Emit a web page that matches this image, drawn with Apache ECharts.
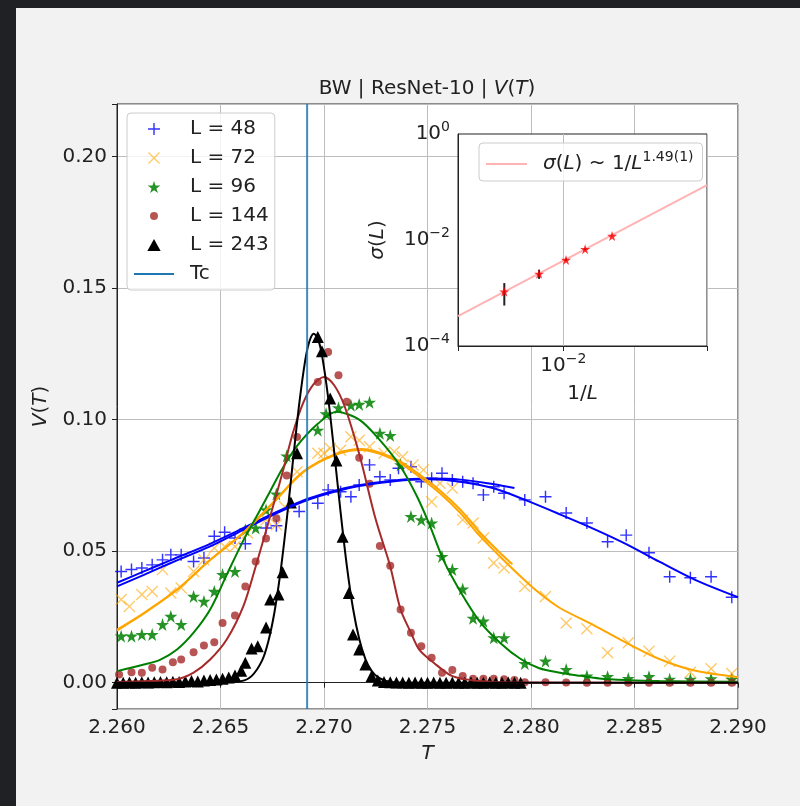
<!DOCTYPE html>
<html>
<head>
<meta charset="utf-8">
<title>BW | ResNet-10 | V(T)</title>
<script src="https://cdn.jsdelivr.net/npm/echarts@6/dist/echarts.min.js"></script>
<style>
  html, body { margin: 0; padding: 0; background: #f2f2f2; }
  #chart { width: 800px; height: 806px; }
</style>
</head>
<body>
<div id="chart"></div>
<script>
// V(T) per lattice size L, points [T, V]
const sizes = [48, 72, 96, 144, 243]
const Tc = 2.269185

const v48 = [
  [2.2602, 0.0423], [2.2607, 0.0430], [2.2612, 0.0436], [2.2617, 0.0448], [2.2622, 0.0467],
  [2.2626, 0.0486], [2.2631, 0.0486], [2.2637, 0.0461], [2.2642, 0.0474], [2.2647, 0.0557],
  [2.2652, 0.0572], [2.2657, 0.0550], [2.2662, 0.0528], [2.2672, 0.0588], [2.2677, 0.0597],
  [2.2688, 0.0651], [2.2697, 0.0682], [2.2702, 0.0733], [2.2708, 0.0726], [2.2713, 0.0707],
  [2.2717, 0.0752], [2.2722, 0.0828], [2.2727, 0.0783], [2.2732, 0.0771], [2.2736, 0.0815],
  [2.2742, 0.0821], [2.2747, 0.0764], [2.2752, 0.0777], [2.2757, 0.0796], [2.2762, 0.0771],
  [2.2767, 0.0764], [2.2772, 0.0758], [2.2777, 0.0714], [2.2782, 0.0745], [2.2787, 0.0720],
  [2.2797, 0.0695], [2.2807, 0.0707], [2.2817, 0.0645], [2.2827, 0.0607], [2.2837, 0.0536],
  [2.2846, 0.0561], [2.2857, 0.0494], [2.2867, 0.0403], [2.2877, 0.0399], [2.2887, 0.0403],
  [2.2897, 0.0325]
]
const v72 = [
  [2.2602, 0.0316], [2.2606, 0.0290], [2.2612, 0.0335], [2.2617, 0.0347], [2.2622, 0.0430],
  [2.2626, 0.0341], [2.2631, 0.0360], [2.2637, 0.0423], [2.2642, 0.0467], [2.2647, 0.0512],
  [2.2652, 0.0518], [2.2657, 0.0518], [2.2663, 0.0569], [2.2672, 0.0619], [2.2677, 0.0600],
  [2.2681, 0.0669], [2.2687, 0.0802], [2.2697, 0.0872], [2.2700, 0.0872], [2.2703, 0.0891],
  [2.2708, 0.0884], [2.2713, 0.0935], [2.2717, 0.0922], [2.2722, 0.0897], [2.2729, 0.0872],
  [2.2734, 0.0878], [2.2738, 0.0859], [2.2743, 0.0828], [2.2748, 0.0809], [2.2752, 0.0688],
  [2.2756, 0.0758], [2.2762, 0.0739], [2.2767, 0.0619], [2.2772, 0.0607], [2.2777, 0.0550],
  [2.2782, 0.0455], [2.2787, 0.0436], [2.2797, 0.0366], [2.2807, 0.0328], [2.2817, 0.0227],
  [2.2827, 0.0205], [2.2837, 0.0114], [2.2847, 0.0152], [2.2857, 0.0120], [2.2867, 0.0082],
  [2.2877, 0.0040], [2.2887, 0.0053], [2.2897, 0.0035]
]
const v96 = [
  [2.2602, 0.0177], [2.2607, 0.0177], [2.2612, 0.0183], [2.2617, 0.0183], [2.2622, 0.0221],
  [2.2626, 0.0252], [2.2631, 0.0221], [2.2637, 0.0328], [2.2642, 0.0309], [2.2647, 0.0347],
  [2.2651, 0.0411], [2.2657, 0.0423], [2.2662, 0.0581], [2.2667, 0.0588], [2.2672, 0.0657],
  [2.2677, 0.0717], [2.2682, 0.0862], [2.2697, 0.0960], [2.2701, 0.1022], [2.2707, 0.1045],
  [2.2713, 0.1055], [2.2717, 0.1058], [2.2722, 0.1066], [2.2727, 0.0948], [2.2732, 0.0940],
  [2.2737, 0.0828], [2.2742, 0.0632], [2.2747, 0.0619], [2.2752, 0.0607], [2.2757, 0.0480],
  [2.2762, 0.0430], [2.2767, 0.0356], [2.2772, 0.0245], [2.2777, 0.0234], [2.2782, 0.0171],
  [2.2787, 0.0171], [2.2797, 0.0073], [2.2807, 0.0082], [2.2817, 0.0050], [2.2827, 0.0025],
  [2.2837, 0.0023], [2.2847, 0.0016], [2.2857, 0.0023], [2.2867, 0.0013], [2.2877, 0.0013],
  [2.2887, 0.0015], [2.2897, 0.0013]
]
const v144 = [
  [2.2601, 0.0031], [2.2607, 0.0040], [2.2612, 0.0038], [2.2617, 0.0057], [2.2622, 0.0050],
  [2.2627, 0.0078], [2.2631, 0.0088], [2.2637, 0.0116], [2.2642, 0.0141], [2.2647, 0.0154],
  [2.2651, 0.0227], [2.2657, 0.0255], [2.2662, 0.0366], [2.2667, 0.0461], [2.2672, 0.0548],
  [2.2677, 0.0625], [2.2682, 0.0788], [2.2687, 0.0934], [2.2697, 0.1143], [2.2702, 0.1257],
  [2.2707, 0.1169], [2.2711, 0.1068], [2.2717, 0.0855], [2.2722, 0.0756], [2.2727, 0.0520],
  [2.2732, 0.0445], [2.2737, 0.0278], [2.2742, 0.0190], [2.2747, 0.0139], [2.2752, 0.0095],
  [2.2757, 0.0038], [2.2762, 0.0048], [2.2767, 0.0025], [2.2772, 0.0015], [2.2777, 0.0015],
  [2.2782, 0.0015], [2.2787, 0.0013], [2.2792, 0.0010], [2.2797, 0.0002], [2.2807, 0.0002],
  [2.2817, 0.0001], [2.2827, 0.0000], [2.2837, 0.0000], [2.2847, 0.0000], [2.2857, 0.0000],
  [2.2867, 0.0000], [2.2877, 0.0000], [2.2887, 0.0000], [2.2897, 0.0000]
]
const v243 = [
  [2.2600, 0.0000], [2.2603, 0.0000], [2.2606, 0.0001], [2.2609, 0.0000], [2.2612, 0.0002],
  [2.2615, 0.0001], [2.2618, 0.0002], [2.2621, 0.0003], [2.2624, 0.0002], [2.2627, 0.0004],
  [2.2630, 0.0003], [2.2633, 0.0005], [2.2636, 0.0006], [2.2639, 0.0005], [2.2642, 0.0008],
  [2.2645, 0.0010], [2.2648, 0.0012], [2.2651, 0.0015], [2.2654, 0.0020], [2.2657, 0.0027],
  [2.2660, 0.0045], [2.2662, 0.0076], [2.2665, 0.0130], [2.2668, 0.0139], [2.2672, 0.0210],
  [2.2674, 0.0316], [2.2678, 0.0335], [2.2680, 0.0420], [2.2684, 0.0685], [2.2687, 0.0872],
  [2.2697, 0.1314], [2.2699, 0.1260], [2.2703, 0.1080], [2.2706, 0.0845], [2.2709, 0.0555],
  [2.2712, 0.0341], [2.2714, 0.0183], [2.2717, 0.0126], [2.2720, 0.0069], [2.2723, 0.0025],
  [2.2726, 0.0008], [2.2729, 0.0003], [2.2732, 0.0002], [2.2735, 0.0001], [2.2738, 0.0001],
  [2.2741, 0.0000], [2.2744, 0.0001], [2.2747, 0.0000], [2.2750, 0.0000], [2.2753, 0.0001],
  [2.2756, 0.0000], [2.2759, 0.0000], [2.2762, 0.0001], [2.2765, 0.0000], [2.2768, 0.0000],
  [2.2771, 0.0001], [2.2774, 0.0000], [2.2777, 0.0000], [2.2780, 0.0001], [2.2783, 0.0000],
  [2.2786, 0.0000], [2.2789, 0.0001], [2.2792, 0.0000], [2.2795, 0.0000]
]

// fitted curves as traced on the figure (two fits for L = 48 and 72)
const fit48 = [
  [2.2600, 0.0366], [2.2613, 0.0410], [2.2626, 0.0455], [2.2645, 0.0518], [2.2658, 0.0569],
  [2.2672, 0.0625], [2.2682, 0.0662], [2.2693, 0.0697], [2.2705, 0.0726], [2.2717, 0.0748],
  [2.2734, 0.0766], [2.2750, 0.0773], [2.2766, 0.0764], [2.2782, 0.0739], [2.2798, 0.0692],
  [2.2814, 0.0640], [2.2830, 0.0586], [2.2846, 0.0527], [2.2862, 0.0460], [2.2879, 0.0392],
  [2.2900, 0.0325]
]
const fit48b = [
  [2.2600, 0.0380], [2.2613, 0.0423], [2.2626, 0.0466], [2.2645, 0.0528], [2.2658, 0.0576],
  [2.2672, 0.0630], [2.2682, 0.0666], [2.2693, 0.0701], [2.2705, 0.0730], [2.2717, 0.0751],
  [2.2734, 0.0769], [2.2750, 0.0776], [2.2766, 0.0772], [2.2782, 0.0754], [2.2792, 0.0740]
]
const fit72 = [
  [2.2600, 0.0202], [2.2613, 0.0265], [2.2629, 0.0354], [2.2645, 0.0467], [2.2661, 0.0569],
  [2.2676, 0.0688], [2.2690, 0.0800], [2.2706, 0.0868], [2.2718, 0.0885], [2.2727, 0.0870],
  [2.2737, 0.0834], [2.2746, 0.0783], [2.2756, 0.0720], [2.2766, 0.0644], [2.2775, 0.0560],
  [2.2785, 0.0480], [2.2795, 0.0404], [2.2804, 0.0341], [2.2814, 0.0284], [2.2830, 0.0220],
  [2.2846, 0.0152], [2.2862, 0.0090], [2.2879, 0.0046], [2.2900, 0.0021]
]
const fit72b = [
  [2.2600, 0.0198], [2.2613, 0.0263], [2.2629, 0.0353], [2.2645, 0.0466], [2.2661, 0.0570],
  [2.2676, 0.0690], [2.2690, 0.0803], [2.2706, 0.0871], [2.2718, 0.0888], [2.2727, 0.0874],
  [2.2737, 0.0840], [2.2746, 0.0792], [2.2756, 0.0731], [2.2766, 0.0657], [2.2775, 0.0574],
  [2.2785, 0.0494], [2.2791, 0.0450]
]
const fit96 = [
  [2.2600, 0.0044], [2.2613, 0.0069], [2.2621, 0.0088], [2.2629, 0.0126], [2.2637, 0.0190],
  [2.2645, 0.0278], [2.2653, 0.0410], [2.2661, 0.0540], [2.2668, 0.0640], [2.2674, 0.0728],
  [2.2680, 0.0815], [2.2687, 0.0900], [2.2697, 0.0984], [2.2706, 0.1030], [2.2717, 0.1000],
  [2.2727, 0.0922], [2.2737, 0.0821], [2.2745, 0.0707], [2.2751, 0.0600], [2.2758, 0.0461],
  [2.2766, 0.0345], [2.2775, 0.0235], [2.2785, 0.0152], [2.2795, 0.0090], [2.2804, 0.0055],
  [2.2814, 0.0038], [2.2824, 0.0026], [2.2833, 0.0016], [2.2846, 0.0010], [2.2862, 0.0006],
  [2.2900, 0.0004]
]
const fit144 = [
  [2.2600, 0.0003], [2.2615, 0.0006], [2.2629, 0.0013], [2.2637, 0.0038], [2.2645, 0.0088],
  [2.2653, 0.0164], [2.2661, 0.0290], [2.2667, 0.0442], [2.2675, 0.0660], [2.2680, 0.0800],
  [2.2685, 0.0950], [2.2690, 0.1065], [2.2695, 0.1135], [2.2700, 0.1162], [2.2705, 0.1130],
  [2.2710, 0.1050], [2.2717, 0.0870], [2.2725, 0.0620], [2.2732, 0.0442], [2.2737, 0.0278],
  [2.2742, 0.0190], [2.2746, 0.0126], [2.2753, 0.0076], [2.2762, 0.0025], [2.2775, 0.0006],
  [2.2790, 0.0001], [2.2900, 0.0000]
]
const fit243 = [
  [2.2600, 0.0000], [2.2650, 0.0001], [2.2660, 0.0006], [2.2665, 0.0025], [2.2670, 0.0083],
  [2.2673, 0.0154], [2.2676, 0.0265], [2.2679, 0.0422], [2.2682, 0.0620], [2.2685, 0.0843],
  [2.2688, 0.1058], [2.2691, 0.1229], [2.2693, 0.1299], [2.2695, 0.1327], [2.2697, 0.1308],
  [2.2699, 0.1246], [2.2702, 0.1084], [2.2705, 0.0872], [2.2708, 0.0649], [2.2711, 0.0446],
  [2.2714, 0.0283], [2.2717, 0.0167], [2.2720, 0.0090], [2.2723, 0.0045], [2.2726, 0.0021],
  [2.2730, 0.0007], [2.2735, 0.0001], [2.2745, 0.0000], [2.2900, 0.0000]
]

// inset: width of the peak against 1/L
const sigma = [0.0119, 0.0067, 0.0042, 0.0023, 0.00106]
const sigmaErr = [0.0002, 0.0003, 0.0002, 0.00045, 0.00048]
const sigmaFit = [[0.00205, 0.000368], [0.0869, 0.109]]

const FONT = 'DejaVu Sans'
const INK = '#222222'
const PLUS = 'path://M4.4,0H5.6V4.4H10V5.6H5.6V10H4.4V5.6H0V4.4H4.4Z'
const CROSS = 'path://M0,0.8L0.8,0L5,4.2L9.2,0L10,0.8L5.8,5L10,9.2L9.2,10L5,5.8L0.8,10L0,9.2L4.2,5Z'
const STAR = 'path://M5,0L6.18,3.62L10,3.62L6.91,5.86L8.09,9.5L5,7.25L1.91,9.5L3.09,5.86L0,3.62L3.82,3.62Z'
const TRI = 'path://M5,0L10,9L0,9Z'
// dot with an empty margin so the legend icon stays small
const DOT_ICON = 'path://M0,0L0.01,0Z M12,12L11.99,12Z M6,2A4,4 0 1,1 6,10A4,4 0 1,1 6,2Z'
const BAR_40 = 'path://M0,0H40V2H0Z'

function points(name, data, symbol, size, color, opacity) {
  return {
    name, type: 'scatter', data, symbol, symbolSize: size,
    itemStyle: { color, opacity }
  }
}

function fitLine(name, data, color) {
  return {
    name, type: 'line', data, smooth: 0.3,
    symbol: 'none', lineStyle: { color, width: 2 }, itemStyle: { color }
  }
}

function pow10(v) {
  const l = Math.log10(v)
  const e = Math.round(l)
  if (Math.abs(l - e) > 1e-6 || e % 2 !== 0) return ''
  return '{b|10}{s|' + String(e).replace('-', '\u2212') + '}'
}

const labelRich = {
  b: { fontSize: 20, lineHeight: 28, color: INK, fontFamily: FONT },
  s: { fontSize: 14, lineHeight: 14, verticalAlign: 'top', color: INK, fontFamily: FONT }
}
const italic = { fontStyle: 'italic', fontSize: 20, color: INK, fontFamily: FONT }

const chart = echarts.init(document.getElementById('chart'))

chart.setOption({
  animation: false,
  backgroundColor: '#f2f2f2',
  textStyle: { fontFamily: FONT },
  graphic: [
    { type: 'rect', silent: true, shape: { x: 0, y: 0, width: 800, height: 8 }, style: { fill: '#202124' } },
    { type: 'rect', silent: true, shape: { x: 0, y: 0, width: 16, height: 806 }, style: { fill: '#202124' } }
  ],
  title: {
    text: 'BW | ResNet-10 | {i|V}({i|T})',
    left: 427, top: 79, textAlign: 'center', padding: 0,
    textStyle: { fontSize: 20, fontWeight: 'normal', color: INK, fontFamily: FONT, rich: { i: italic } }
  },
  legend: [
    {
      data: [
        { name: 'L = 48' },
        { name: 'L = 72' },
        { name: 'L = 96' },
        { name: 'L = 144', icon: DOT_ICON },
        { name: 'L = 243', icon: TRI },
        { name: 'Tc', icon: BAR_40 }
      ],
      orient: 'vertical', left: 127, top: 113,
      itemWidth: 40, itemHeight: 12, itemGap: 9,
      padding: [6, 6, 6, 7],
      backgroundColor: 'rgba(255,255,255,0.8)', borderColor: '#cccccc', borderWidth: 1, borderRadius: 4,
      textStyle: { fontSize: 20, lineHeight: 20, color: INK, fontFamily: FONT, padding: [0, 0, 0, 11] },
      selectedMode: false
    },
    {
      data: [{ name: 'sigmaFit', icon: BAR_40 }],
      left: 479, top: 143,
      itemWidth: 41, itemHeight: 14,
      padding: [7, 9, 7, 7],
      backgroundColor: 'rgba(255,255,255,0.8)', borderColor: '#cccccc', borderWidth: 1, borderRadius: 4,
      formatter: () => '{g|σ}{n|(}{g|L}{n|) ~ 1/}{g|L}{s|1.49(1)}',
      textStyle: {
        fontSize: 20, color: INK, fontFamily: FONT, padding: [0, 0, 0, 11],
        rich: {
          n: { fontSize: 20, lineHeight: 28, color: INK, fontFamily: FONT },
          g: { fontSize: 20, lineHeight: 28, fontStyle: 'italic', color: INK, fontFamily: FONT },
          s: { fontSize: 14, lineHeight: 14, verticalAlign: 'top', color: INK, fontFamily: FONT }
        }
      },
      selectedMode: false,
      z: 30
    }
  ],
  grid: [
    { left: 117, top: 104, width: 621, height: 605, show: true, backgroundColor: '#ffffff', borderColor: INK, borderWidth: 1 },
    { left: 458, top: 134, width: 249, height: 212, show: true, backgroundColor: '#ffffff', borderColor: INK, borderWidth: 1, z: 20 }
  ],
  xAxis: [
    {
      type: 'value', gridIndex: 0, min: 2.26, max: 2.29, interval: 0.005,
      name: '{i|T}', nameLocation: 'middle', nameGap: 35,
      nameTextStyle: { fontSize: 20, color: INK, rich: { i: italic } },
      axisLine: { lineStyle: { color: INK } },
      axisTick: { length: 5, lineStyle: { color: INK } },
      axisLabel: { fontSize: 20, color: INK, margin: 9, formatter: v => v.toFixed(3) },
      splitLine: { show: true, lineStyle: { color: '#bdbdbd', width: 1 } }
    },
    {
      type: 'log', gridIndex: 1, min: 0.00205, max: 0.0869, z: 21,
      name: '1/{i|L}', nameLocation: 'middle', nameGap: 38,
      nameTextStyle: { fontSize: 20, color: INK, rich: { i: italic } },
      axisLine: { lineStyle: { color: INK } },
      axisTick: { length: 5, lineStyle: { color: INK } },
      axisLabel: { margin: 6, formatter: pow10, rich: labelRich },
      splitLine: { show: true, lineStyle: { color: '#bdbdbd', width: 1 } }
    }
  ],
  yAxis: [
    {
      type: 'value', gridIndex: 0, min: -0.01, max: 0.22, splitNumber: 5,
      name: '{i|V}({i|T})', nameLocation: 'middle', nameGap: 66, nameRotate: 90,
      nameTextStyle: { fontSize: 20, color: INK, rich: { i: italic } },
      axisLine: { lineStyle: { color: INK } },
      axisTick: { length: 5, lineStyle: { color: INK } },
      axisLabel: {
        fontSize: 20, color: INK, margin: 10,
        formatter: v => (v < -0.001 || v > 0.21) ? '' : v.toFixed(2)
      },
      splitLine: { show: true, lineStyle: { color: '#bdbdbd', width: 1 } }
    },
    {
      type: 'log', gridIndex: 1, min: 0.0001, max: 1, z: 21,
      name: '{i|σ}({i|L})', nameLocation: 'middle', nameGap: 70, nameRotate: 90,
      nameTextStyle: { fontSize: 20, color: INK, rich: { i: italic } },
      axisLine: { lineStyle: { color: INK } },
      axisTick: { show: false },
      axisLabel: { margin: 8, formatter: pow10, rich: labelRich },
      splitLine: { show: false }
    }
  ],
  series: [
    points('L = 48', v48, PLUS, 12, '#0000ff', 0.8),
    fitLine('fit48', fit48, '#0000ff'),
    fitLine('fit48b', fit48b, '#0000ff'),
    points('L = 72', v72, CROSS, 12, '#ffa500', 0.6),
    fitLine('fit72', fit72, '#ffa500'),
    fitLine('fit72b', fit72b, '#ffa500'),
    points('L = 96', v96, STAR, 13, '#008000', 0.85),
    fitLine('fit96', fit96, '#008000'),
    points('L = 144', v144, 'circle', 8, '#a52a2a', 0.8),
    fitLine('fit144', fit144, '#a52a2a'),
    points('L = 243', v243, TRI, 12, '#000000', 1),
    fitLine('fit243', fit243, '#000000'),
    {
      name: 'Tc', type: 'line', symbol: 'none',
      data: [[Tc, -0.01], [Tc, 0.22]],
      lineStyle: { color: '#1f77b4', width: 2, opacity: 0.85 }, itemStyle: { color: '#1f77b4' }
    },
    // inset
    {
      name: 'sigmaFit', type: 'line', xAxisIndex: 1, yAxisIndex: 1, z: 22,
      data: sigmaFit, symbol: 'none',
      lineStyle: { color: '#ffb3b3', width: 2 }, itemStyle: { color: '#ffb3b3' },
      markLine: {
        silent: true, symbol: 'none', label: { show: false },
        lineStyle: { color: '#bdbdbd', width: 1, type: 'solid' },
        data: [{ yAxis: 0.01 }]
      }
    },
    {
      name: 'sigmaErr', type: 'custom', xAxisIndex: 1, yAxisIndex: 1, z: 23,
      data: sizes.map((L, i) => [1 / L, sigma[i] - sigmaErr[i], sigma[i] + sigmaErr[i]]),
      encode: { x: 0, y: [1, 2] },
      renderItem: (params, api) => {
        const a = api.coord([api.value(0), api.value(1)])
        const b = api.coord([api.value(0), api.value(2)])
        return {
          type: 'line',
          shape: { x1: a[0], y1: a[1], x2: b[0], y2: b[1] },
          style: { stroke: INK, lineWidth: 2 }
        }
      }
    },
    {
      name: 'sigma', type: 'scatter', xAxisIndex: 1, yAxisIndex: 1, z: 24,
      data: sizes.map((L, i) => [1 / L, sigma[i]]),
      symbol: STAR, symbolSize: 10, itemStyle: { color: '#ff0000' }
    }
  ]
})
</script>
</body>
</html>
